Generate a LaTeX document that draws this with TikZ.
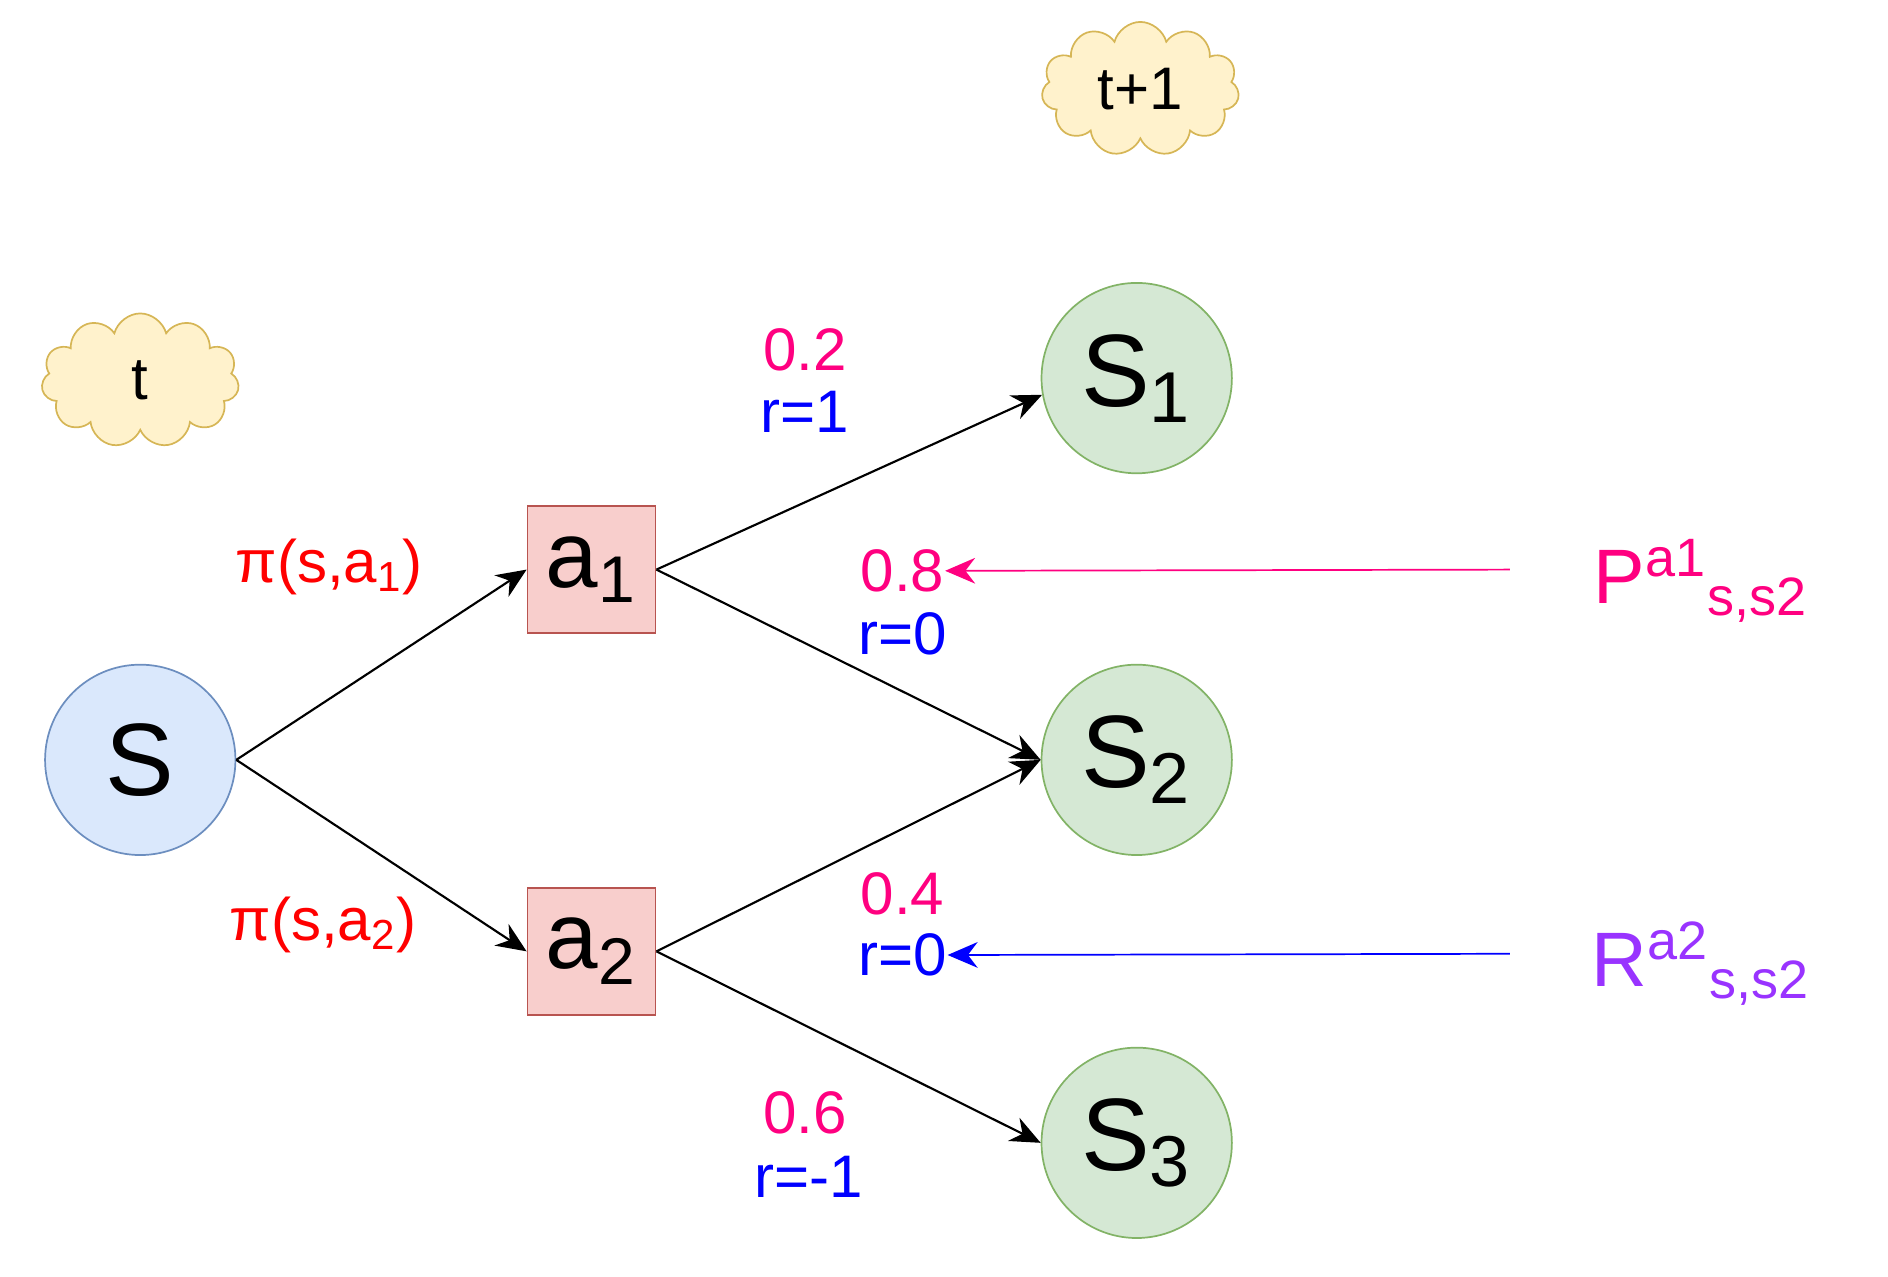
\documentclass[tikz,border=0pt]{standalone}
\usepackage{fontspec}
\setmainfont{Liberation Sans}
\usetikzlibrary{shapes.symbols,arrows.meta}
\definecolor{bfill}{HTML}{DAE8FC}\definecolor{bline}{HTML}{6C8EBF}
\definecolor{gfill}{HTML}{D5E8D4}\definecolor{gline}{HTML}{82B366}
\definecolor{rfill}{HTML}{F8CECC}\definecolor{rline}{HTML}{B85450}
\definecolor{yfill}{HTML}{FFF2CC}\definecolor{yline}{HTML}{D6B656}
\definecolor{pk}{HTML}{FF0080}\definecolor{bl}{HTML}{0000FF}
\definecolor{rd}{HTML}{FF0000}\definecolor{pu}{HTML}{9933FF}
\begin{document}
\begin{tikzpicture}[x=0.01cm,y=-0.01cm,
  st/.style={circle,draw=#1line,fill=#1fill,minimum size=1.56cm,inner sep=0pt,font=\fontsize{24}{26}\selectfont},
  act/.style={rectangle,draw=rline,fill=rfill,minimum width=1.05cm,minimum height=1.04cm,inner sep=0pt,font=\fontsize{22}{24}\selectfont},
  cl/.style={cloud,cloud puffs=11,aspect=1.5,draw=yline,fill=yfill,minimum width=1.62cm,minimum height=1.1cm,inner sep=0pt,font=\fontsize{14}{16}\selectfont},
  ed/.style={draw=black,-{Stealth[length=7pt,width=6pt]},line width=0.5pt},
  lb/.style={font=\fontsize{14}{15}\selectfont,inner sep=0pt}]
\useasboundingbox (0,0) rectangle (1548,1047);
\node[st=b] (s) at (115,623) {S};
\node[act] (a1) at (485,467) {a\textsubscript{1}};
\node[act] (a2) at (485,780) {a\textsubscript{2}};
\node[st=g] (s1) at (932,310) {S\textsubscript{1}};
\node[st=g] (s2) at (932,623) {S\textsubscript{2}};
\node[st=g] (s3) at (932,937) {S\textsubscript{3}};
\node[cl] (t) at (115,312) {t};
\node[cl] (t1) at (935,73) {t+1};
\draw[ed] (s.east) -- (a1.west);
\draw[ed] (s.east) -- (a2.west);
\draw[ed] (a1.east) -- (s1.190);
\draw[ed] (a1.east) -- (s2.west);
\draw[ed] (a2.east) -- (s2.west);
\draw[ed] (a2.east) -- (s3.west);
\node[lb,text=rd] (p1) at (270,465) {π(s,a\textsubscript{1})};
\node[lb,text=rd] (p2) at (265,758) {π(s,a\textsubscript{2})};
\node[lb,text=pk] (n1) at (660,287) {0.2};
\node[lb,text=bl] (r1) at (660,338) {r=1};
\node[lb,text=pk] (n2) at (740,468) {0.8};
\node[lb,text=bl] (r2) at (740,520) {r=0};
\node[lb,text=pk] (n3) at (740,733) {0.4};
\node[lb,text=bl] (r3) at (740,783) {r=0};
\node[lb,text=pk] (n4) at (660,912) {0.6};
\node[lb,text=bl] (r4) at (663,965) {r=-1};
\coordinate (pe) at (1238,467);
\coordinate (re) at (1238,782);
\draw[draw=pk,-{Stealth[length=7pt,width=6pt]}] (pe) -- (n2.east);
\draw[draw=bl,-{Stealth[length=7pt,width=6pt]}] (re) -- (r3.east);
\node[font=\fontsize{18}{20}\selectfont,text=pk,inner sep=0pt] (P) at (1395,476) {P\textsuperscript{a1}\textsubscript{s,s2}};
\node[font=\fontsize{18}{20}\selectfont,text=pu,inner sep=0pt] (R) at (1395,790) {R\textsuperscript{a2}\textsubscript{s,s2}};
\end{tikzpicture}
\end{document}
